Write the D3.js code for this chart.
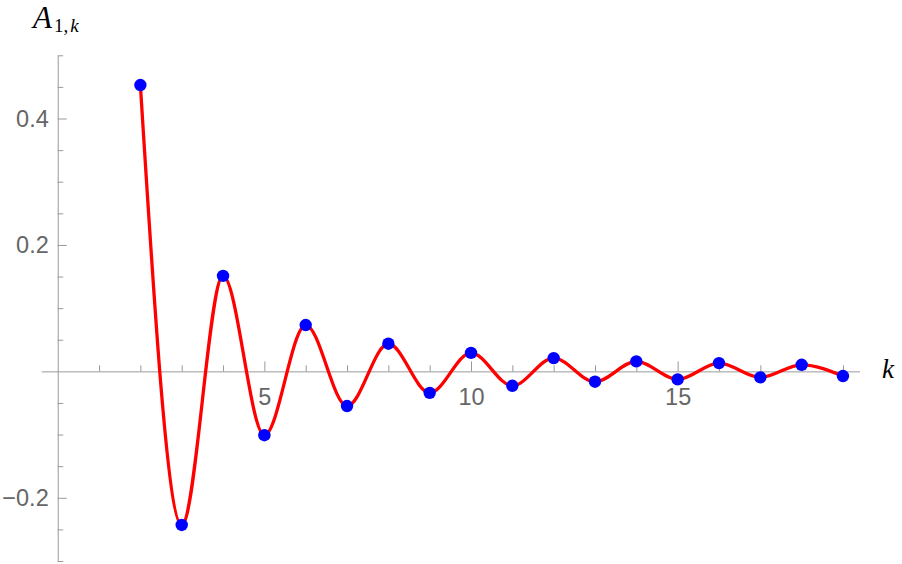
<!DOCTYPE html>
<html lang="en">
    <head>
        <meta charset="UTF-8">
        <title>A_{1,k}</title>
        <script src="https://cdn.jsdelivr.net/npm/d3@7/dist/d3.min.js"></script>
        <style type="text/css">
            body {margin: 0; background: #fff; overflow: hidden;}
            .tick text {font-family: "Liberation Sans", Arial, sans-serif; font-size: 23.5px; fill: #666;}
            .tick line, .domain {stroke: #999;}
            .lab {font-family: "Liberation Serif", "Times New Roman", serif; fill: #000;}
        </style>
    </head>
    <body>
        <svg width="902" height="564"></svg>
        <script>
            // values
            var ks = [2, 3, 4, 5, 6, 7, 8, 9, 10, 11, 12, 13, 14, 15, 16, 17, 18, 19];
            var vals = [0.453, -0.243, 0.151, -0.101, 0.0733, -0.0549, 0.0437, -0.0340, 0.0292,
                        -0.0228, 0.0210, -0.0164, 0.0158, -0.0127, 0.0131, -0.0095, 0.0104, -0.0074];
            var xMajor = [5, 10, 15];
            var xMinor = [1, 2, 3, 4, 6, 7, 8, 9, 11, 12, 13, 14, 16, 17, 18, 19];
            var yMajor = [-0.2, 0.2, 0.4];
            var yMinor = [-0.3, -0.25, -0.15, -0.1, -0.05, 0.05, 0.1, 0.15, 0.25, 0.3, 0.35, 0.45, 0.5];

            var data = ks.map(function(k, i) { return {k: k, v: vals[i]}; });

            var svg = d3.select('svg');
            var x = d3.scaleLinear().domain([-0.4, 19.4]).range([41.2, 859.5]);
            var y = d3.scaleLinear().domain([-0.3, 0.5]).range([561, 55.3]);

            var fmt = function(d) { return String(d).replace('-', '\u2212'); };

            // x axis at y = 0
            svg.append('g')
                .attr('transform', 'translate(0,' + y(0) + ')')
                .call(d3.axisBottom(x).tickValues(xMajor).tickSizeInner(-10).tickSizeOuter(0).tickPadding(17).tickFormat(fmt));
            svg.append('g')
                .attr('transform', 'translate(0,' + y(0) + ')')
                .call(d3.axisBottom(x).tickValues(xMinor).tickSizeInner(-6).tickSizeOuter(0).tickFormat(''))
                .select('.domain').remove();

            // y axis at x = 0
            svg.append('g')
                .attr('transform', 'translate(' + x(0) + ',0)')
                .call(d3.axisLeft(y).tickValues(yMajor).tickSizeInner(-9).tickSizeOuter(0).tickPadding(9).tickFormat(fmt));
            svg.append('g')
                .attr('transform', 'translate(' + x(0) + ',0)')
                .call(d3.axisLeft(y).tickValues(yMinor).tickSizeInner(-5.5).tickSizeOuter(0).tickFormat(''))
                .select('.domain').remove();

            svg.selectAll('.domain').attr('stroke-width', 1);

            // curve and points
            var line = d3.line()
                .x(function(d) { return x(d.k); })
                .y(function(d) { return y(d.v); })
                .curve(d3.curveMonotoneX);

            svg.append('path')
                .datum(data)
                .attr('d', line)
                .attr('fill', 'none')
                .attr('stroke', '#ff0000')
                .attr('stroke-width', 3.3);

            svg.append('g')
                .selectAll('circle')
                .data(data)
                .enter()
                .append('circle')
                .attr('cx', function(d) { return x(d.k); })
                .attr('cy', function(d) { return y(d.v); })
                .attr('r', 6.2)
                .attr('fill', '#0000ff');

            // axis labels
            var yl = svg.append('text').attr('class', 'lab').attr('x', 33).attr('y', 28);
            yl.append('tspan').attr('font-style', 'italic').attr('font-size', 31).text('A');
            yl.append('tspan').attr('x', 54).attr('dy', 4).attr('font-size', 19).text('1,');
            yl.append('tspan').attr('dx', 2).attr('font-size', 19).attr('font-style', 'italic').text('k');

            svg.append('text').attr('class', 'lab')
                .attr('x', 882).attr('y', 378)
                .attr('font-style', 'italic').attr('font-size', 27)
                .text('k');
        </script>
    </body>
</html>
